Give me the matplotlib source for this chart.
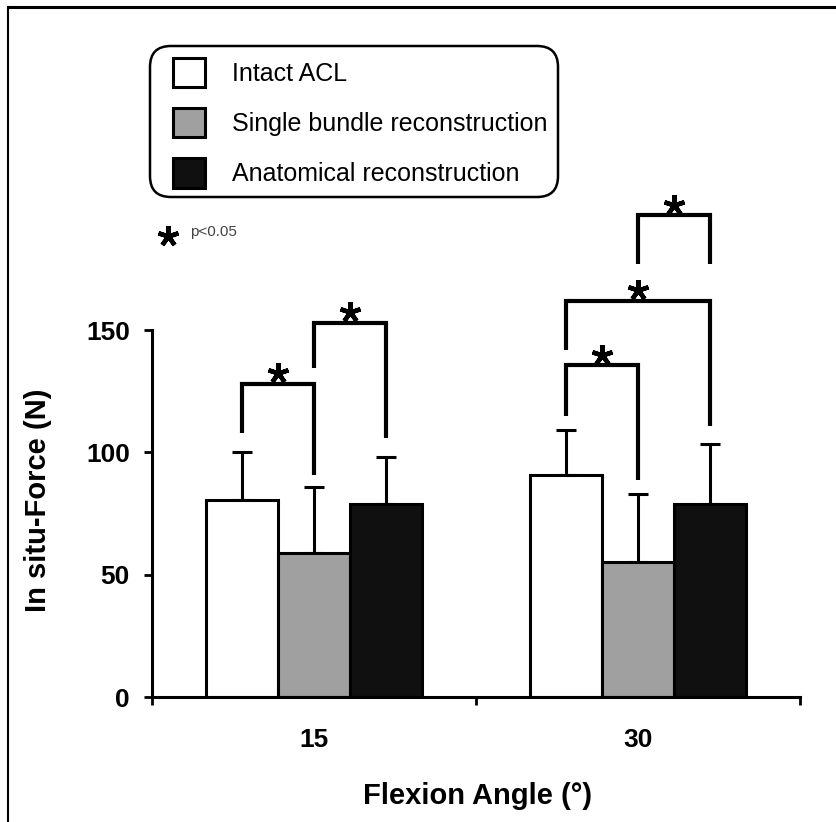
import matplotlib
matplotlib.use('Agg')
import matplotlib.pyplot as plt
from matplotlib.lines import Line2D
from matplotlib.patches import FancyBboxPatch
from matplotlib import transforms
import numpy as np

plt.rcParams['font.family'] = ['Liberation Sans', 'DejaVu Sans']

# data
angles = ['15', '30']
group_names = ['Intact ACL', 'Single bundle reconstruction', 'Anatomical reconstruction']
intact = [80.5, 90.7]
intact_sd = [19.8, 18.5]
single = [58.7, 55.3]
single_sd = [27.3, 27.7]
anatomical = [78.9, 79.0]
anatomical_sd = [19.3, 24.4]

# significance brackets: (group, bar a, bar b, top, leg a bottom, leg b bottom)
brackets = [
    (0, 0, 1, 128.0, 108.0, 90.7),
    (0, 1, 2, 153.0, 134.4, 105.8),
    (1, 0, 1, 135.7, 115.0, 88.7),
    (1, 0, 2, 162.0, 142.0, 110.7),
    (1, 1, 2, 197.0, 177.0, 177.0),
]


def draw_chart():
    fig = plt.figure(figsize=(8.37, 8.22), dpi=100)
    W, H = 837, 822
    ax = fig.add_axes([152 / W, 1 - 697 / H, 648 / W, 367 / H])

    x = np.arange(len(angles))
    width = 0.223
    series = [
        (intact, intact_sd, 'white'),
        (single, single_sd, '#a0a0a0'),
        (anatomical, anatomical_sd, '#101010'),
    ]
    for i, (means, sds, color) in enumerate(series):
        pos = x + (i - 1) * width
        ax.bar(pos, means, width, color=color, edgecolor='black',
               linewidth=2.2, label=group_names[i], zorder=2)
        ax.errorbar(pos, means, yerr=[np.zeros(len(sds)), sds], fmt='none',
                    ecolor='black', elinewidth=2.2, capsize=7, capthick=2.2,
                    zorder=1)

    # brackets with asterisks
    star_tr = transforms.offset_copy(ax.transData, fig=fig, y=7.5, units='points')
    for g, a, b, top, la, lb in brackets:
        xa = x[g] + (a - 1) * width
        xb = x[g] + (b - 1) * width
        ax.plot([xa, xa, xb, xb], [la, top, top, lb], color='black', lw=3,
                clip_on=False, solid_joinstyle='miter', solid_capstyle='butt')
        ax.plot((xa + xb) / 2, top, marker=(5, 2, 0), ms=15, mew=3.2,
                color='black', transform=star_tr, clip_on=False)

    ax.set_xlim(-0.5, 1.5)
    ax.set_ylim(0, 150)
    ax.set_yticks([0, 50, 100, 150])
    ax.set_xticks([-0.5, 0.5, 1.5])
    ax.set_xticklabels([])
    ax.set_xticks(x, minor=True)
    ax.set_xticklabels(angles, minor=True)
    ax.tick_params(axis='x', which='minor', length=0, pad=22, labelsize=19)
    ax.tick_params(axis='x', which='major', length=6, width=2)
    ax.tick_params(axis='y', length=6, width=2, pad=10, labelsize=19)
    for lbl in ax.get_yticklabels() + ax.get_xticklabels(minor=True):
        lbl.set_fontweight('bold')
    for side in ['top', 'right']:
        ax.spines[side].set_visible(False)
    for side in ['left', 'bottom']:
        ax.spines[side].set_linewidth(2.2)

    ax.set_ylabel('In situ-Force (N)', fontsize=21, fontweight='bold')
    ax.yaxis.set_label_coords(-0.155, 0.537)
    ax.set_xlabel('Flexion Angle (°)', fontsize=21, fontweight='bold')
    ax.xaxis.set_label_coords(0.503, -0.232)

    # legend entries, with a rounded frame drawn round them
    ax.legend(loc='upper left', bbox_to_anchor=(173 / W, 1 - 58 / H),
              bbox_transform=fig.transFigure, borderaxespad=0, borderpad=0,
              fontsize=18, handlelength=1.28, handleheight=1.42,
              handletextpad=1.08, labelspacing=0.84, frameon=False)
    fig.add_artist(FancyBboxPatch((150 / W, 1 - 197 / H), 408 / W, 151 / H,
                                  boxstyle='round,pad=0,rounding_size=0.025',
                                  transform=fig.transFigure, facecolor='white',
                                  edgecolor='black', linewidth=1.8, zorder=0,
                                  mutation_aspect=W / H))

    # p-value key
    fig.add_artist(Line2D([168 / W], [1 - 236 / H], marker=(5, 2, 0),
                          ms=15, mew=3.2, color='black',
                          transform=fig.transFigure))
    fig.text(190 / W, 1 - 232 / H, 'p<0.05', fontsize=11, color='#444444',
             va='center')

    # scanned page border
    fig.add_artist(Line2D([8 / W, 1], [1 - 7.5 / H] * 2, color='black',
                          lw=2.2, transform=fig.transFigure))
    fig.add_artist(Line2D([8 / W] * 2, [0, 1 - 7.5 / H], color='black',
                          lw=1.5, transform=fig.transFigure))

    fig.savefig('out.png', dpi=100)


if __name__ == "__main__":
    draw_chart()
